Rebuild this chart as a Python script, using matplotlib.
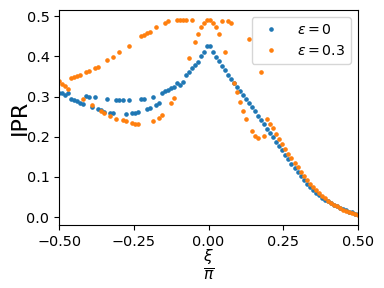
import numpy as np
import matplotlib
matplotlib.use("Agg")
import matplotlib.pyplot as plt

# xi / pi grid
xi = np.linspace(-0.5, 0.5, 100)

ipr_eps0 = [
    0.310, 0.310, 0.303, 0.308, 0.295, 0.292, 0.289, 0.285, 0.281, 0.301,
    0.300, 0.273, 0.298, 0.269, 0.267, 0.262, 0.294, 0.259, 0.259, 0.292,
    0.292, 0.292, 0.256, 0.291, 0.259, 0.260, 0.262, 0.294, 0.295, 0.269,
    0.272, 0.300, 0.280, 0.285, 0.310, 0.313, 0.317, 0.321, 0.325, 0.333,
    0.328, 0.337, 0.353, 0.361, 0.370, 0.379, 0.386, 0.400, 0.411, 0.425,
    0.425, 0.411, 0.399, 0.388, 0.376, 0.365, 0.355, 0.344, 0.334, 0.324,
    0.314, 0.304, 0.294, 0.283, 0.273, 0.263, 0.252, 0.242, 0.231, 0.220,
    0.210, 0.199, 0.188, 0.178, 0.166, 0.155, 0.144, 0.133, 0.122, 0.112,
    0.102, 0.092, 0.083, 0.075, 0.067, 0.060, 0.054, 0.048, 0.043, 0.039,
    0.035, 0.031, 0.027, 0.023, 0.020, 0.017, 0.014, 0.012, 0.009, 0.008,
]

ipr_eps03 = [
    0.338, 0.331, 0.326, 0.320, 0.347, 0.349, 0.351, 0.354, 0.294, 0.362,
    0.364, 0.279, 0.371, 0.374, 0.265, 0.260, 0.390, 0.252, 0.399, 0.245,
    0.410, 0.241, 0.239, 0.426, 0.234, 0.232, 0.232, 0.450, 0.453, 0.458,
    0.462, 0.240, 0.474, 0.248, 0.254, 0.484, 0.487, 0.283, 0.297, 0.491,
    0.491, 0.491, 0.491, 0.395, 0.491, 0.437, 0.455, 0.472, 0.483, 0.490,
    0.490, 0.483, 0.472, 0.455, 0.488, 0.412, 0.488, 0.484, 0.334, 0.311,
    0.287, 0.264, 0.245, 0.443, 0.215, 0.203, 0.196, 0.360, 0.201, 0.245,
    0.233, 0.221, 0.207, 0.195, 0.182, 0.169, 0.158, 0.146, 0.135, 0.124,
    0.113, 0.102, 0.092, 0.083, 0.075, 0.067, 0.060, 0.053, 0.047, 0.041,
    0.036, 0.031, 0.027, 0.023, 0.019, 0.016, 0.013, 0.010, 0.008, 0.005,
]

fig, ax = plt.subplots(figsize=(3.84, 2.88), dpi=100)
fig.subplots_adjust(left=0.154, right=0.932, top=0.965, bottom=0.219)

ax.plot(xi, ipr_eps0, ".", ms=4.6, label=r"$\varepsilon=0$")
ax.plot(xi, ipr_eps03, ".", ms=4.6, label=r"$\varepsilon=0.3$")

ax.set_xlim(-0.5, 0.5)
ax.set_xticks([-0.5, -0.25, 0.0, 0.25, 0.5])
ax.set_yticks([0.0, 0.1, 0.2, 0.3, 0.4, 0.5])
ax.tick_params(labelsize=10.4)
ax.set_xlabel(r"$\frac{\xi}{\pi}$", fontsize=16, labelpad=-1.5)
ax.set_ylabel("IPR", fontsize=16)
ax.yaxis.set_label_coords(-0.098, 0.5)
ax.legend(loc="upper right", fontsize=10.2)

fig.savefig("out.png", dpi=100)
